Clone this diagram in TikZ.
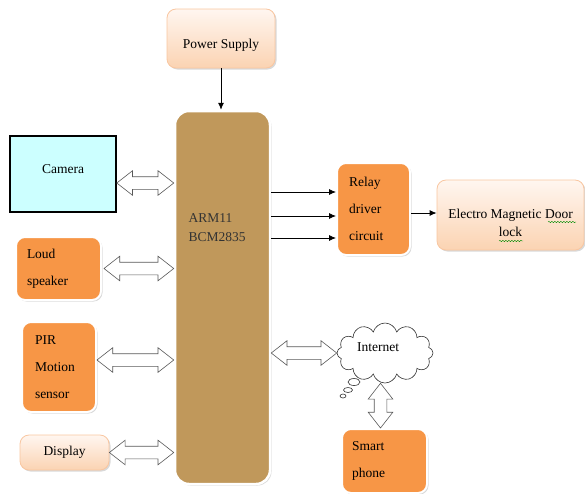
\documentclass[tikz,border=0pt]{standalone}
\usepackage{fontspec}
\setmainfont{Liberation Serif}
\usetikzlibrary{arrows.meta,calc,shapes.arrows,shapes.symbols,shadows,decorations.pathmorphing}

\definecolor{armbrown}{HTML}{C0985B}
\definecolor{boxorange}{HTML}{F79646}
\definecolor{camcyan}{HTML}{CCFFFF}
\definecolor{peachtop}{HTML}{FFF6F0}
\definecolor{peachbot}{HTML}{FBD3B2}
\definecolor{peachline}{HTML}{F9C6A0}

\newcommand{\blockfont}{\fontsize{13.5}{18}\selectfont}
\newcommand{\stackfont}{\fontsize{13.5}{27}\selectfont}

\tikzset{
  softbox/.style={rounded corners=9pt,
    drop shadow={opacity=0.3, shadow xshift=1.5pt, shadow yshift=-1.5pt}},
  orangebox/.style={softbox, fill=boxorange, draw=white, line width=2pt,
    align=left, font=\stackfont},
  peachbox/.style={softbox, top color=peachtop, bottom color=peachbot,
    draw=peachline, line width=0.8pt, align=center, font=\blockfont},
  dblarrow/.style={to path={
    let \p1=(\tikztostart), \p2=(\tikztotarget),
        \n1={veclen(\x2-\x1,\y2-\y1)}, \n2={atan2(\y2-\y1,\x2-\x1)} in
    node[double arrow, draw=black!65, fill=white, line width=0.6pt,
         rotate=\n2, minimum height=\n1, inner sep=6pt,
         double arrow head extend=6pt, double arrow tip angle=76]
      at ($(\p1)!0.5!(\p2)$) {}}},
  sigarrow/.style={-{Latex[length=7pt,width=6pt]}, line width=0.8pt}
}

\begin{document}
\begin{tikzpicture}[x=1pt,y=-1pt]
  \useasboundingbox (0,0) rectangle (585,493);
  %% Draw the controller
  \node[softbox, rounded corners=14pt, fill=armbrown, draw=white, line width=2.5pt,
        minimum width=95pt, minimum height=373pt] (arm) at (222.5,297.5) {};
  \node[anchor=west, align=left, font=\fontsize{13.5}{19}\selectfont, text=black!80]
        (armlbl) at (185,228) {ARM11\\BCM2835};
  %% Draw the blocks
  \node[peachbox, minimum width=108pt, minimum height=59pt, text height=22pt,
        text depth=3pt] (ps) at (221,38.5) {Power Supply};
  \node[draw=black, line width=1.6pt, fill=camcyan, minimum width=106pt,
        minimum height=76pt, font=\blockfont, text height=9pt, text depth=10pt]
        (cam) at (63,174) {Camera};
  \node[orangebox, text width=63pt, inner xsep=11pt, minimum height=63pt] (spk) at (58.5,268.5) {Loud\\speaker};
  \node[orangebox, text width=48pt, inner xsep=13pt, minimum height=90pt] (pir) at (59,367) {PIR\\Motion\\sensor};
  \node[peachbox, minimum width=89pt, minimum height=35pt] (disp) at (64.5,452.5) {Display};
  \node[orangebox, text width=49pt, inner xsep=12pt, minimum height=92pt] (relay) at (373.5,209) {Relay\\driver\\circuit};
  \node[peachbox, minimum width=147pt, minimum height=70pt, text height=46pt,
        text depth=3pt] (door) at (510.5,215) {Electro Magnetic Door\\lock};
  \node[orangebox, text width=65pt, inner xsep=10pt, minimum height=64pt] (phone) at (384.5,461) {Smart\\phone};
  %% Draw the cloud
  \draw[black!80, fill=white, line width=0.6pt] (343,396) ellipse [x radius=3pt, y radius=2pt];
  \draw[black!80, fill=white, line width=0.6pt] (348,390) ellipse [x radius=4.5pt, y radius=2.5pt];
  \draw[black!80, fill=white, line width=0.6pt] (354,382) ellipse [x radius=6pt, y radius=3.5pt];
  \node[cloud, draw=black!80, fill=white, line width=0.6pt, cloud puffs=12, aspect=1.6,
        minimum width=96pt, minimum height=60pt, inner sep=0pt] (net) at (385,353) {};
  \node[font=\blockfont] (netlbl) at (378,347) {Internet};
  %% Draw the spelling marks
  \begin{scope}[every path/.style={draw=green!55!black, line width=0.4pt,
      decorate, decoration={snake, amplitude=0.7pt, segment length=3pt}}]
    \path (548,222) -- (576,222);
    \path (499,241) -- (523,241);
  \end{scope}
  %% Draw the links
  \coordinate (camlink) at ([yshift=-9pt]cam.east);
  \coordinate (pirlink) at ([yshift=7pt]pir.east);
  \coordinate (phonelink) at ([xshift=-4pt]phone.north);
  \path[dblarrow] (camlink) to (camlink -| arm.west);
  \path[dblarrow] ([xshift=2pt]spk.east) to (spk.east -| arm.west);
  \path[dblarrow] (pirlink) to (pirlink -| arm.west);
  \path[dblarrow] (disp.east) to (disp.east -| arm.west);
  \path[dblarrow] (net.west -| arm.east) to (net.west);
  \path[dblarrow] (phonelink) to (phonelink |- net.south);
  %% Draw the signals
  \coordinate (r1) at ([yshift=17pt]relay.west);
  \coordinate (r2) at ([yshift=-7pt]relay.west);
  \coordinate (r3) at ([yshift=-29pt]relay.west);
  \begin{scope}[every path/.style={sigarrow}]
    \draw (ps.south) -- (ps.south |- arm.north);
    \draw (r1 -| arm.east) -- (r1);
    \draw (r2 -| arm.east) -- (r2);
    \draw (r3 -| arm.east) -- (r3);
    \draw ([yshift=2pt]door.west -| relay.east) -- ([yshift=2pt]door.west);
  \end{scope}
\end{tikzpicture}
\end{document}
